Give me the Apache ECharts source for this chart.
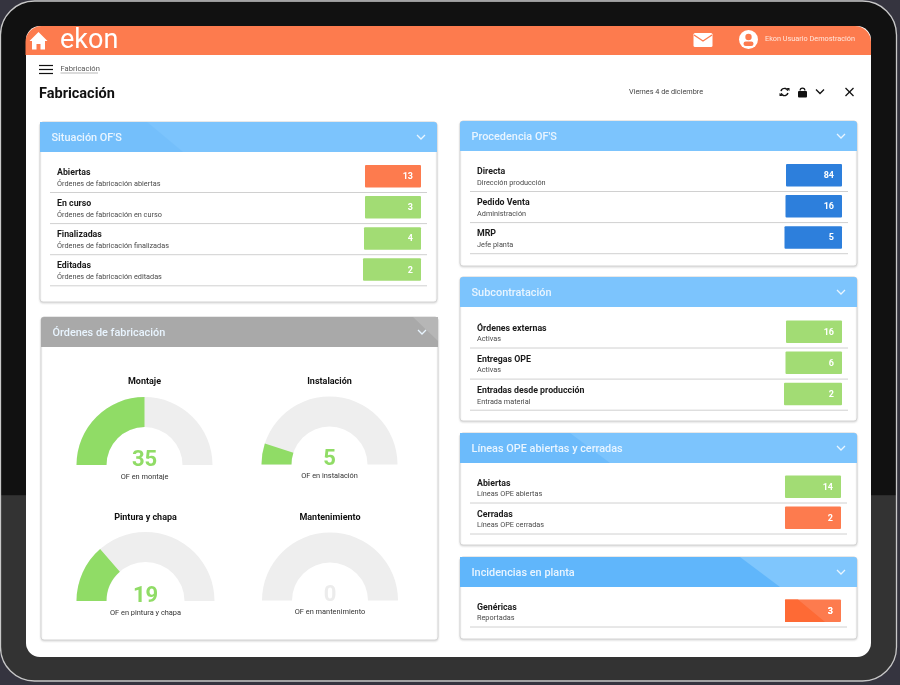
<!DOCTYPE html>
<html>
<head>
<meta charset="utf-8">
<title>Fabricación</title>
<script src="https://cdn.jsdelivr.net/npm/echarts@6/dist/echarts.min.js"></script>
<style>
html,body{margin:0;padding:0;background:#35343f;}
#main{width:900px;height:685px;}
</style>
</head>
<body>
<div id="main"></div>
<script>
// datos de los paneles
var situacionNames = ["Abiertas", "En curso", "Finalizadas", "Editadas"];
var situacionSubs = ["Órdenes de fabricación abiertas", "Órdenes de fabricación en curso", "Órdenes de fabricación finalizadas", "Órdenes de fabricación editadas"];
var situacionValues = [13, 3, 4, 2];

var procedenciaNames = ["Directa", "Pedido Venta", "MRP"];
var procedenciaSubs = ["Dirección producción", "Administración", "Jefe planta"];
var procedenciaValues = [84, 16, 5];

var subcontrataNames = ["Órdenes externas", "Entregas OPE", "Entradas desde producción"];
var subcontrataSubs = ["Activas", "Activas", "Entrada material"];
var subcontrataValues = [16, 6, 2];

var lineasNames = ["Abiertas", "Cerradas"];
var lineasSubs = ["Líneas OPE abiertas", "Líneas OPE cerradas"];
var lineasValues = [14, 2];

var incidenciasNames = ["Genéricas"];
var incidenciasSubs = ["Reportadas"];
var incidenciasValues = [3];

// gauges
var gaugeNames = ["Montaje", "Instalación", "Pintura y chapa", "Mantenimiento"];
var gaugeSubs = ["OF en montaje", "OF en instalación", "OF en pintura y chapa", "OF en mantenimiento"];
var gaugeValues = [35, 5, 19, 0];
var gaugeMax = [70, 50, 70, 50];

var FONT = "Roboto";
var ORANGE = "#fd7b4e", GREEN = "#a2dc74", BLUE = "#2d7fdc";
var items = [];

function rect(x, y, w, h, fill, r, extra) {
  var el = {type: "rect", shape: {x: x, y: y, width: w, height: h, r: r || 0}, style: {fill: fill}};
  if (extra) { Object.assign(el.style, extra); }
  items.push(el);
}
function poly(points, fill) {
  items.push({type: "polygon", shape: {points: points}, style: {fill: fill}});
}
function line(points, color, width) {
  items.push({type: "polyline", shape: {points: points}, style: {stroke: color, lineWidth: width, fill: null}});
}
function text(x, y, str, size, color, weight, align) {
  items.push({type: "text", x: x, y: y, style: {
    text: str, fontFamily: FONT, fontSize: size, fill: color, fontWeight: weight || 400,
    align: align || "left", verticalAlign: "middle"
  }});
}
function chevron(x, y, color, width) {
  line([[x - 4, y - 2], [x, y + 2], [x + 4, y - 2]], color, width);
}

// marco de la tablet y pantalla
rect(0.5, 1, 896, 680, {type: "linear", x: 0, y: 0, x2: 0, y2: 1, colorStops: [
  {offset: 0, color: "#111111"}, {offset: 0.726, color: "#111111"},
  {offset: 0.727, color: "#333333"}, {offset: 1, color: "#333333"}]}, 34,
  {stroke: "#c8c8c8", lineWidth: 1.3});
rect(26, 26, 845, 631, "#ffffff", 14);
rect(25.5, 26, 845.5, 29, ORANGE, [16, 16, 0, 0]);

// cabecera
poly([[38.5, 32], [29.5, 41], [32, 41], [32, 49.5], [36.5, 49.5], [36.5, 44], [40.5, 44], [40.5, 49.5], [45, 49.5], [45, 41], [47.5, 41]], "#ffffff");
text(60, 41, "ekon", 27, "#ffffff", 400);
rect(693.5, 33, 19, 14, "#ffffff", 1.5);
line([[694, 35], [703, 41], [712, 35]], ORANGE, 1.3);
items.push({type: "circle", shape: {cx: 748.5, cy: 39.5, r: 9.5}, style: {fill: "#ffffff"}});
items.push({type: "circle", shape: {cx: 748.5, cy: 37, r: 3.2}, style: {fill: ORANGE}});
rect(743.5, 41.5, 10, 4.5, ORANGE, 2.2);
text(765, 39, "Ekon Usuario Demostración", 7.3, "#ffe6dc");

line([[39, 65.5], [53, 65.5]], "#111111", 1.2);
line([[39, 69.5], [53, 69.5]], "#111111", 1.2);
line([[39, 73.5], [53, 73.5]], "#111111", 1.2);
text(60.5, 69, "Fabricación", 7.6, "#555555");
line([[60.5, 73], [98, 73]], "#888888", 0.6);
text(39, 94, "Fabricación", 14.5, "#111111", 700);
text(629, 92, "Viernes 4 de diciembre", 7.3, "#444444");

// iconos de la barra derecha
items.push({type: "arc", shape: {cx: 784.5, cy: 92, r: 3.6, startAngle: 3.4, endAngle: 5.9}, style: {stroke: "#111", lineWidth: 1.5, fill: null}});
items.push({type: "arc", shape: {cx: 784.5, cy: 92, r: 3.6, startAngle: 0.3, endAngle: 2.8}, style: {stroke: "#111", lineWidth: 1.5, fill: null}});
poly([[786.5, 88], [789.5, 88], [789.5, 91]], "#111");
poly([[779.5, 93], [782.5, 96], [779.5, 96]], "#111");
rect(798, 91, 9, 6.5, "#111", 1);
items.push({type: "arc", shape: {cx: 802.5, cy: 90.5, r: 2.4, startAngle: Math.PI, endAngle: 0}, style: {stroke: "#111", lineWidth: 1.2, fill: null}});
chevron(820, 91.5, "#111", 1.3);
line([[845.5, 88], [853.5, 96]], "#111", 1.3);
line([[853.5, 88], [845.5, 96]], "#111", 1.3);

// panel con cabecera azul o gris
function panel(x, y, w, h, color) {
  rect(x, y, w, h, "#ffffff", 3, {stroke: "#d6d6d6", lineWidth: 1, shadowBlur: 2, shadowColor: "rgba(0,0,0,0.12)", shadowOffsetY: 1});
  rect(x, y, w, 30, color, [3, 3, 0, 0]);
}
function panelLabels(x, y, w, title) {
  text(x + 11.5, y + 16.5, title, 10.9, "#e9f5ff", 500);
  chevron(x + w - 16, y + 15, "#e9f5ff", 1.3);
}
function rows(x, y, w, names, subs, values, colors, step, tileLefts) {
  for (var i = 0; i < names.length; i++) {
    var oy = y + i * step;
    text(x + 17, oy + 1, names[i], 8.8, "#1a1a1a", 700);
    text(x + 17, oy + 12, subs[i], 7.3, "#4a4a4a");
    line([[x + 10, oy + 20.5], [x + w - 10, oy + 20.5]], "#d0d0d0", 1);
    var left = tileLefts[i];
    rect(left, oy - 7, x + w - 16 - left, 22.5, colors[i], 1);
    text(x + w - 24, oy + 5, String(values[i]), 9, "#ffffff", 700, "right");
  }
}

// Situación OF'S
panel(40, 122, 397, 180, "#7cc4fd");
poly([[40, 122], [147, 122], [183, 152], [40, 152]], "#74bffb");
panelLabels(40, 122, 397, "Situación OF'S");
rows(40, 172, 397, situacionNames, situacionSubs, situacionValues, [ORANGE, GREEN, GREEN, GREEN], 31.1, [365, 365, 364, 363]);

// Órdenes de fabricación
panel(41, 317, 397, 323, "#a9a9a9");
poly([[413, 317], [438, 317], [438, 341]], "#b6b6b6");
panelLabels(41, 317, 397, "Órdenes de fabricación");

// Procedencia OF'S
panel(460, 121, 397, 145, "#7cc4fd");
panelLabels(460, 121, 397, "Procedencia OF'S");
rows(460, 171, 398, procedenciaNames, procedenciaSubs, procedenciaValues, [BLUE, BLUE, BLUE], 31.1, [786, 785.5, 784.5]);

// Subcontratación
panel(460, 277, 397, 144, "#7cc4fd");
panelLabels(460, 277, 397, "Subcontratación");
rows(460, 327.5, 398, subcontrataNames, subcontrataSubs, subcontrataValues, [GREEN, GREEN, GREEN], 31.1, [786, 785.5, 784]);

// Líneas OPE abiertas y cerradas
panel(460, 433, 397, 112, "#7cc4fd");
poly([[460, 433], [570, 433], [610, 463], [460, 463]], "#6cbbfb");
panelLabels(460, 433, 397, "Líneas OPE abiertas y cerradas");
rows(460, 482.5, 397, lineasNames, lineasSubs, lineasValues, [GREEN, ORANGE], 31, [785, 785]);

// Incidencias en planta
panel(460, 557, 397, 82, "#7fc6fd");
poly([[460, 557], [740, 557], [780, 587], [460, 587]], "#60b6fb");
panelLabels(460, 557, 397, "Incidencias en planta");
rows(460, 606.5, 397, incidenciasNames, incidenciasSubs, incidenciasValues, [ORANGE], 31, [785]);
poly([[785, 599.5], [798, 599.5], [825, 622], [785, 622]], "#fe6a35");
text(833, 611.5, String(incidenciasValues[0]), 9, "#ffffff", 700, "right");

// un gauge por cada valor
var gaugeCenters = [[144.5, 465], [329.5, 464.5], [145.5, 601], [330, 600.5]];
var gaugeRadius = [68, 68, 69, 68];
var seriesList = gaugeValues.map(function (v, i) {
  return {
    type: "gauge",
    center: gaugeCenters[i],
    radius: gaugeRadius[i],
    startAngle: 180,
    endAngle: 0,
    min: 0,
    max: gaugeMax[i],
    silent: true,
    animation: false,
    pointer: {show: false},
    axisTick: {show: false},
    splitLine: {show: false},
    axisLabel: {show: false},
    axisLine: {lineStyle: {width: 30, color: [[1, "#eeeeee"]]}},
    progress: {show: true, width: 30, itemStyle: {color: "#90dc66"}},
    title: {offsetCenter: [0, -83], fontFamily: FONT, fontSize: 9, fontWeight: 700, color: "#111111"},
    detail: {
      offsetCenter: [0, 0],
      valueAnimation: false,
      fontWeight: 400,
      formatter: function (val) {
        return "{v|" + val + "}\n{s|" + gaugeSubs[i] + "}";
      },
      rich: {
        v: {fontFamily: FONT, fontSize: 22, fontWeight: 700, lineHeight: 24, color: v > 0 ? "#90dc66" : "#ececec"},
        s: {fontFamily: FONT, fontSize: 7.4, fontWeight: 400, lineHeight: 10, color: "#333333"}
      }
    },
    data: [{value: v, name: gaugeNames[i]}]
  };
});

let myChart = echarts.init(document.getElementById("main"), null, {width: 900, height: 685});
myChart.setOption({
  animation: false,
  backgroundColor: "#35343f",
  graphic: {elements: [{type: "group", silent: true, children: items}]},
  series: seriesList
});
</script>
</body>
</html>
